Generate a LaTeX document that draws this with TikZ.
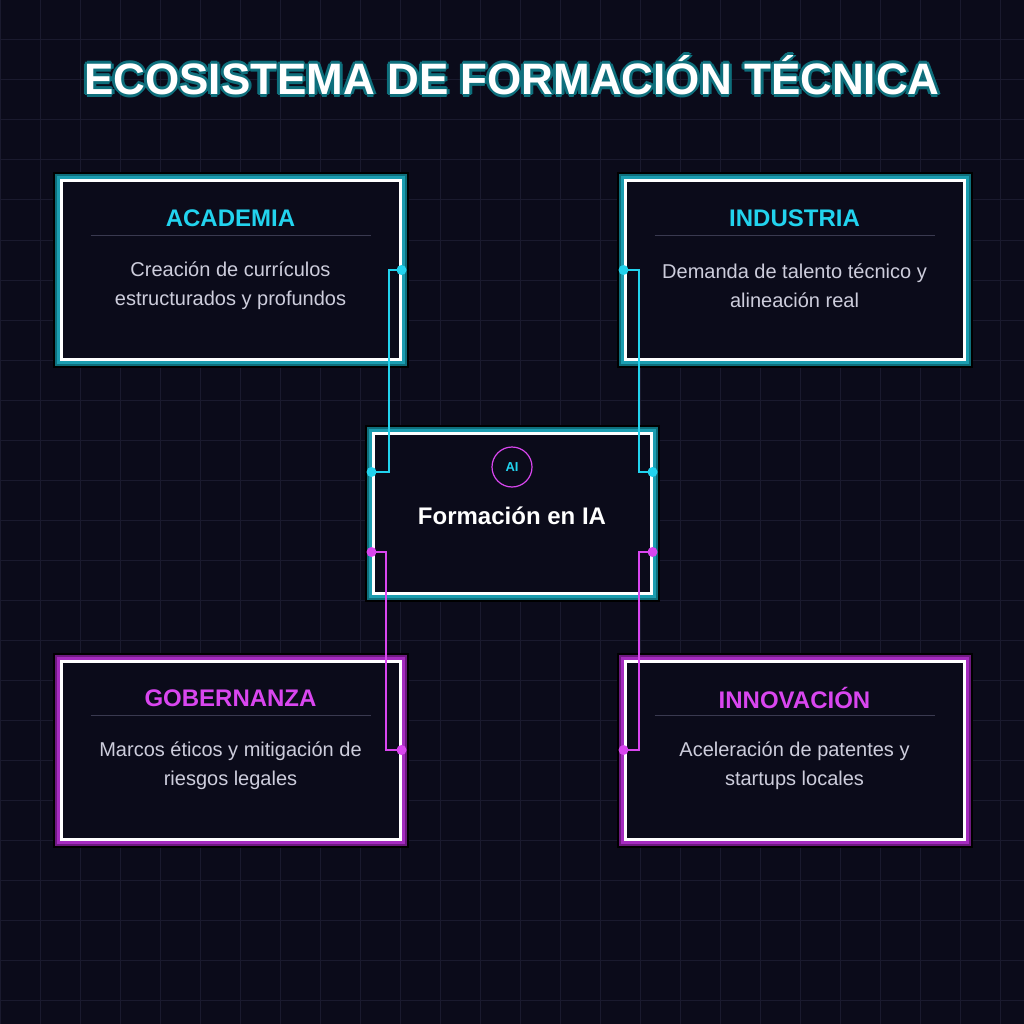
\documentclass[tikz,border=0pt]{standalone}
\usepackage{fontspec}
\setmainfont{Liberation Sans}
\usetikzlibrary{calc,positioning}
\definecolor{bg}{HTML}{0B0B1A}
\definecolor{gridc}{HTML}{1A1A2E}
\definecolor{cyanc}{HTML}{22D3EE}
\definecolor{magc}{HTML}{D946EF}
\definecolor{tealA}{HTML}{0E6F7C}
\definecolor{tealB}{HTML}{1B9DB0}
\definecolor{magA}{HTML}{6E1A80}
\definecolor{magB}{HTML}{A52BBF}
\definecolor{bodyc}{HTML}{CDCDDC}
\definecolor{sepc}{HTML}{3A3A50}
\tikzset{
  card/.style 2 args={draw=white, line width=3pt, minimum width=339pt, minimum height=178pt,
    preaction={draw=black, line width=17pt},
    preaction={draw=#1, line width=13pt},
    preaction={draw=#2, line width=9pt},
    preaction={fill=bg}},
  head/.style={font=\bfseries\fontsize{24}{28}\selectfont, text=#1},
  body/.style={font=\fontsize{20}{29}\selectfont, text=bodyc, align=center},
  dot/.style={circle, fill=#1, inner sep=0pt, minimum size=10pt},
  link/.style={draw=#1, line width=2pt}
}
\begin{document}
\begin{tikzpicture}[x=1pt, y=-1pt]
  \fill[bg] (0,0) rectangle (1024,1024);
  \useasboundingbox (0,0) rectangle (1024,1024);
  \foreach \k in {0,40,...,1000} {
    \draw[gridc, line width=1pt] (\k,0) -- (\k,1024);
    \draw[gridc, line width=1pt] (0,\k) -- (1024,\k);
  }

  % title with glow
  \foreach \dx/\dy in {-2/0,2/0,0/-2,0/2,-1.5/-1.5,1.5/1.5,-1.5/1.5,1.5/-1.5,-3/0,3/0,0/3,0/-3} {
    \node[text=tealA, font=\bfseries\fontsize{44}{50}\selectfont] at (512+\dx,75+\dy) {ECOSISTEMA DE FORMACIÓN TÉCNICA};
  }
  \node[text=white, font=\bfseries\fontsize{44}{50}\selectfont] (title) at (512,75) {ECOSISTEMA DE FORMACIÓN TÉCNICA};

  % cards
  \node[card={tealA}{tealB}] (aca) at (230.5,270) {};
  \node[card={tealA}{tealB}] (ind) at (794.5,270) {};
  \node[card={magA}{magB}] (gob) at (230.5,750) {};
  \node[card={magA}{magB}] (inn) at (794.5,750) {};
  \node[card={tealA}{tealB}, minimum width=278pt, minimum height=160pt] (core) at (512,513) {};

  \foreach \n/\t/\c/\a/\b in {aca/ACADEMIA/cyanc/Creación de currículos/estructurados y profundos,
      ind/INDUSTRIA/cyanc/Demanda de talento técnico y/alineación real,
      gob/GOBERNANZA/magc/Marcos éticos y mitigación de/riesgos legales,
      inn/INNOVACIÓN/magc/Aceleración de patentes y/startups locales} {
    \node[head=\c] (\n-h) at ($(\n.center)+(0,-52)$) {\t};
    \draw[sepc, line width=1pt] ($(\n.center)+(-140,-35)$) -- ($(\n.center)+(140,-35)$);
    \node[body] (\n-b) at ($(\n.center)+(0,16)$) {\a\\\b};
  }

  \node[circle, draw=magc, line width=1.2pt, minimum size=40pt, inner sep=0pt,
    text=cyanc, font=\bfseries\fontsize{13}{15}\selectfont] (ai) at (512,467) {AI};
  \node[text=white, font=\bfseries\fontsize{24}{28}\selectfont] (core-t) at (512,516) {Formación en IA};

  % connectors
  \coordinate (c1) at ($(core.west)+(0,-41)$);
  \coordinate (c2) at ($(core.east)+(0,-41)$);
  \coordinate (c3) at ($(core.west)+(0,39)$);
  \coordinate (c4) at ($(core.east)+(0,39)$);
  \draw[link=cyanc] (aca.east) -- ++(-13,0) |- (c1);
  \draw[link=cyanc] (ind.west) -- ++(15,0) |- (c2);
  \draw[link=magc] (c3) -- ++(14,0) |- (gob.east);
  \draw[link=magc] (c4) -- ++(-14,0) |- (inn.west);
  \foreach \p in {aca.east,ind.west,c1,c2} \node[dot=cyanc] at (\p) {};
  \foreach \p in {gob.east,inn.west,c3,c4} \node[dot=magc] at (\p) {};
\end{tikzpicture}
\end{document}
